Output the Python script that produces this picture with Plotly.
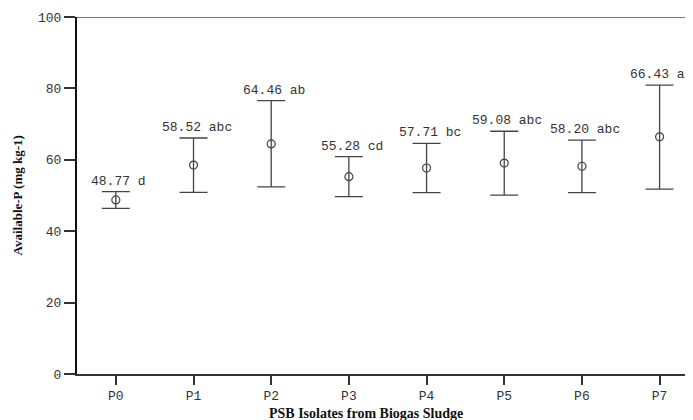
import plotly.graph_objects as go

categories = ["P0", "P1", "P2", "P3", "P4", "P5", "P6", "P7"]
means = [48.77, 58.52, 64.46, 55.28, 57.71, 59.08, 58.20, 66.43]
upper = [51.1, 66.1, 76.6, 60.9, 64.6, 68.0, 65.5, 80.9]
lower = [46.4, 50.9, 52.4, 49.7, 50.8, 50.1, 50.8, 51.8]
letters = ["d", "abc", "ab", "cd", "bc", "abc", "abc", "a"]

err_plus = [u - m for u, m in zip(upper, means)]
err_minus = [m - l for m, l in zip(means, lower)]

mono = "Liberation Mono, Courier New, monospace"
serif = "Liberation Serif, Times New Roman, serif"

fig = go.Figure()
fig.add_trace(go.Scatter(
    x=categories, y=means, mode="markers",
    marker=dict(symbol="circle-open", size=8, color="#444444", line=dict(width=1.2)),
    error_y=dict(type="data", symmetric=False, array=err_plus, arrayminus=err_minus,
                 color="#444444", thickness=1.3, width=14),
    showlegend=False,
))

n = len(categories)
for i, (c, m, u, l) in enumerate(zip(categories, means, upper, letters)):
    fig.add_annotation(x=c, y=u, text=f"{m:.2f} {l}", showarrow=False,
                       yanchor="bottom", xanchor="center", yshift=1,
                       xshift=(-2 if i == n - 1 else 3),
                       font=dict(family=mono, size=13, color="#333333"))

# axis titles as annotations for exact placement
fig.add_annotation(xref="paper", yref="paper", x=0.469, y=0, yshift=-39,
                   xanchor="center", yanchor="middle", showarrow=False,
                   text="<b>PSB Isolates from Biogas Sludge</b>",
                   font=dict(family=serif, size=14, color="#111111"))
fig.add_annotation(xref="paper", yref="paper", x=-0.0974, y=0.5, textangle=-90,
                   xanchor="center", yanchor="middle", showarrow=False,
                   text="<b>Available-P (mg kg-1)</b>",
                   font=dict(family=serif, size=13, color="#111111"))

fig.update_layout(
    width=685, height=412,
    margin=dict(l=69, r=0, t=9, b=46),
    paper_bgcolor="white", plot_bgcolor="white",
    xaxis=dict(
        range=[-0.5, 7.43], showgrid=False, zeroline=False,
        showline=True, linecolor="#333333", linewidth=1.5, mirror=False,
        ticks="outside", ticklen=9, tickcolor="#333333", tickwidth=2,
        tickfont=dict(family=mono, size=13, color="#333333"),
    ),
    yaxis=dict(
        range=[0, 100], showgrid=False, zeroline=False,
        showline=True, linecolor="#111111", linewidth=2,
        ticks="outside", ticklen=11, tickcolor="#333333", tickwidth=2,
        tickvals=[0, 20, 40, 60, 80, 100],
        tickfont=dict(family=mono, size=13, color="#333333"),
    ),
)
fig.add_shape(type="line", xref="paper", yref="y", x0=0, x1=1, y0=100, y1=100,
              line=dict(color="#777777", width=2))

fig.write_html("out.html")
